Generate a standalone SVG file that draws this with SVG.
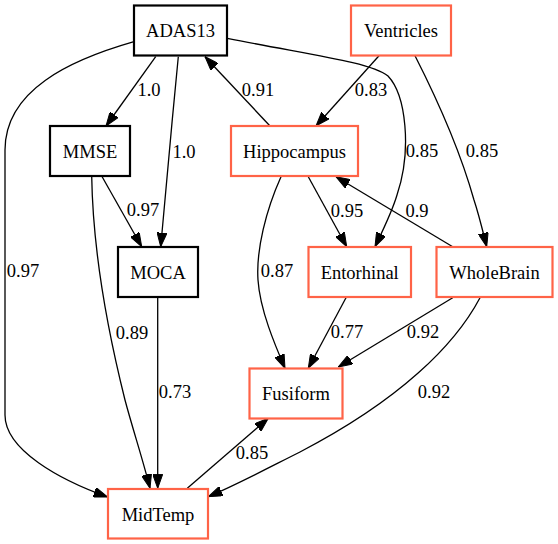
<svg xmlns="http://www.w3.org/2000/svg" width="558" height="544" viewBox="0 0 558 544">
<style>
.nb rect{fill:#fff;stroke:#000;stroke-width:2.2}
.nr rect{fill:#fff;stroke:#ff6347;stroke-width:2.2}
.e path{fill:none;stroke:#000;stroke-width:1.3;marker-end:url(#ah)}
</style>
<defs>
<marker id="ah" viewBox="0 0 14 10" refX="14" refY="5" markerWidth="14" markerHeight="10" markerUnits="userSpaceOnUse" orient="auto">
<path d="M0,0 L14,5 L0,10 z" fill="#000" stroke="#000" stroke-width="1"/>
</marker>
</defs>
<rect width="558" height="544" fill="#fff"/>
<g id="edges" class="e">
<path d="M155.7,56.7 L106,126"/>
<path d="M178.3,56.7 C172,120 166,190 160.7,246.7"/>
<path d="M134,41.7 C70,60 5,90 5,150 L5,415 C5,450 60,480 107.7,497"/>
<path d="M227.3,38.3 C310,55 370,62 388,76 C406,95 412,150 397,195 C392,212 383,230 375,246.7"/>
<path d="M270,126 L205,56.7"/>
<path d="M379,55.7 L316,126"/>
<path d="M415,55.7 C435,95 460,150 474,200 C479,215 483,232 486.7,246.7"/>
<path d="M101.7,176 L141.7,246.7"/>
<path d="M91.7,176 C93,260 110,340 125,400 C133,430 143,460 150,488.3"/>
<path d="M157.7,297.7 L157.7,488.3"/>
<path d="M308.3,176.7 L346.7,246.7"/>
<path d="M452.7,246.7 L336,176.7"/>
<path d="M281,176.7 C266,210 256,250 258,280 C260,310 275,345 285,368.3"/>
<path d="M346,297.7 L308.3,368.3"/>
<path d="M452.7,297.7 L338.3,367"/>
<path d="M480,297.7 C455,345 400,400 300,452 C270,467 240,483 208.3,496.7"/>
<path d="M187.3,488.3 L268.3,418.3"/>
</g>
<g font-family="Liberation Serif, serif" font-size="18.5" text-anchor="middle" fill="#000">
<g id="edge-labels">
<text x="149" y="96">1.0</text>
<text x="184" y="158">1.0</text>
<text x="23" y="277">0.97</text>
<text x="422" y="157">0.85</text>
<text x="258" y="96">0.91</text>
<text x="371" y="96">0.83</text>
<text x="482" y="157">0.85</text>
<text x="143" y="216">0.97</text>
<text x="132" y="339">0.89</text>
<text x="175" y="398">0.73</text>
<text x="347" y="217">0.95</text>
<text x="417" y="217">0.9</text>
<text x="277" y="277">0.87</text>
<text x="347" y="338">0.77</text>
<text x="423" y="338">0.92</text>
<text x="434" y="398">0.92</text>
<text x="252" y="459">0.85</text>
</g>
<g id="ADAS13" class="nb"><rect x="134" y="5.5" width="93" height="50"/><text x="180.5" y="37">ADAS13</text></g>
<g id="Ventricles" class="nr"><rect x="351" y="5.5" width="100" height="50"/><text x="401" y="37">Ventricles</text></g>
<g id="MMSE" class="nb"><rect x="50" y="126" width="80" height="50"/><text x="90" y="157.5">MMSE</text></g>
<g id="Hippocampus" class="nr"><rect x="231" y="126" width="127" height="50"/><text x="294.5" y="157.5">Hippocampus</text></g>
<g id="MOCA" class="nb"><rect x="118" y="247" width="80" height="50"/><text x="158" y="278.5">MOCA</text></g>
<g id="Entorhinal" class="nr"><rect x="308.5" y="247" width="102.5" height="50"/><text x="359.7" y="278.5">Entorhinal</text></g>
<g id="WholeBrain" class="nr"><rect x="436.5" y="247" width="116" height="50"/><text x="494.5" y="278.5">WholeBrain</text></g>
<g id="Fusiform" class="nr"><rect x="249.5" y="368.5" width="93" height="50"/><text x="296" y="400">Fusiform</text></g>
<g id="MidTemp" class="nr"><rect x="108" y="489" width="100" height="49.5"/><text x="158" y="520.5">MidTemp</text></g>
</g>
</svg>
